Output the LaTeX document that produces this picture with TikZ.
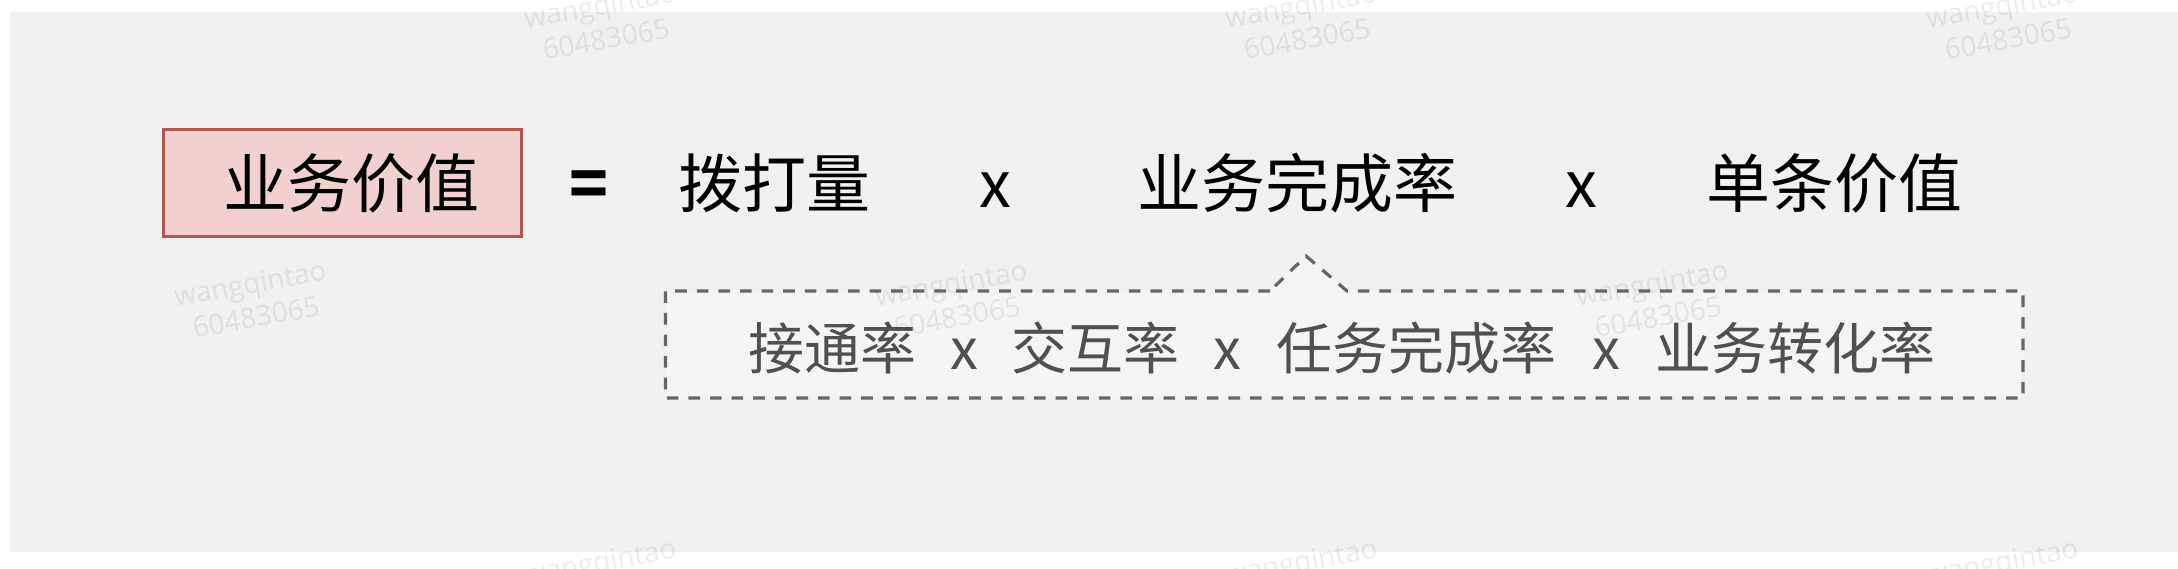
\documentclass[tikz,border=0pt]{standalone}
\usepackage{fontspec}
\newfontfamily\cjk{Noto Sans CJK SC}
\newfontfamily\wmfont{Open Sans}
\definecolor{bggrey}{HTML}{F1F1F1}
\definecolor{boxfill}{HTML}{F2D0CF}
\definecolor{boxline}{HTML}{B0574F}
\definecolor{dashgrey}{HTML}{666666}
\definecolor{subtext}{HTML}{505050}
\definecolor{calloutfill}{HTML}{F5F5F5}
\begin{document}
\begin{tikzpicture}[x=0.5pt,y=-0.5pt,
  main/.style={font=\cjk\fontsize{32pt}{38pt}\selectfont, text=black, inner sep=0pt, anchor=base},
  sub/.style={font=\cjk\fontsize{28pt}{34pt}\selectfont, text=subtext, inner sep=0pt, anchor=base},
  valbox/.style={draw=boxline, fill=boxfill, line width=1.5pt, minimum width=179pt, minimum height=53.5pt, inner sep=0pt},
  callout/.style={draw=dashgrey, fill=calloutfill, line width=1.6pt, dash pattern=on 5.8pt off 5pt},
  watermark/.style={font=\wmfont\fontsize{14pt}{17pt}\selectfont, text=black, text opacity=0.07, align=center, rotate=10, inner sep=0pt}]
\useasboundingbox (0,0) rectangle (2178,568);
\fill[bggrey] (10,12) rectangle (2178,552);

% value box
\node[valbox] (box) at (342.5,183) {};
\node[main] (val) at (351,207) {业务价值};

% top formula
\node[main] (eq) at (588.5,207) {\bfseries =};
\node[main] (calls) at (774.5,207) {拨打量};
\node[main] (x1) at (995,207) {x};
\node[main] (done) at (1297.5,207) {业务完成率};
\node[main] (x2) at (1581,207) {x};
\node[main] (unit) at (1834,207) {单条价值};

% callout
\coordinate (nl) at (1270,291);
\coordinate (np) at (1306,256);
\coordinate (nr) at (1347,291);
\draw[callout] (nl) -- (665.5,291) -- (665.5,398) -- (2023,398) -- (2023,291) -- (nr) -- (np) -- cycle;

% sub formula
\node[sub] (s1) at (832.5,369) {接通率};
\node[sub] (sx1) at (964.5,369) {x};
\node[sub] (s2) at (1095,369) {交互率};
\node[sub] (sx2) at (1227,369) {x};
\node[sub] (s3) at (1416,369) {任务完成率};
\node[sub] (sx3) at (1606.5,369) {x};
\node[sub] (s4) at (1795.5,369) {业务转化率};

% watermarks
\node[watermark] (wm1) at (603,22) {wangqintao\\60483065};
\node[watermark] (wm2) at (1304,22) {wangqintao\\60483065};
\node[watermark] (wm3) at (2005,22) {wangqintao\\60483065};
\node[watermark] (wm4) at (253,300) {wangqintao\\60483065};
\node[watermark] (wm5) at (954,300) {wangqintao\\60483065};
\node[watermark] (wm6) at (1655,300) {wangqintao\\60483065};
\node[watermark] (wm7) at (603,578) {wangqintao\\60483065};
\node[watermark] (wm8) at (1304,578) {wangqintao\\60483065};
\node[watermark] (wm9) at (2005,578) {wangqintao\\60483065};
\end{tikzpicture}
\end{document}
